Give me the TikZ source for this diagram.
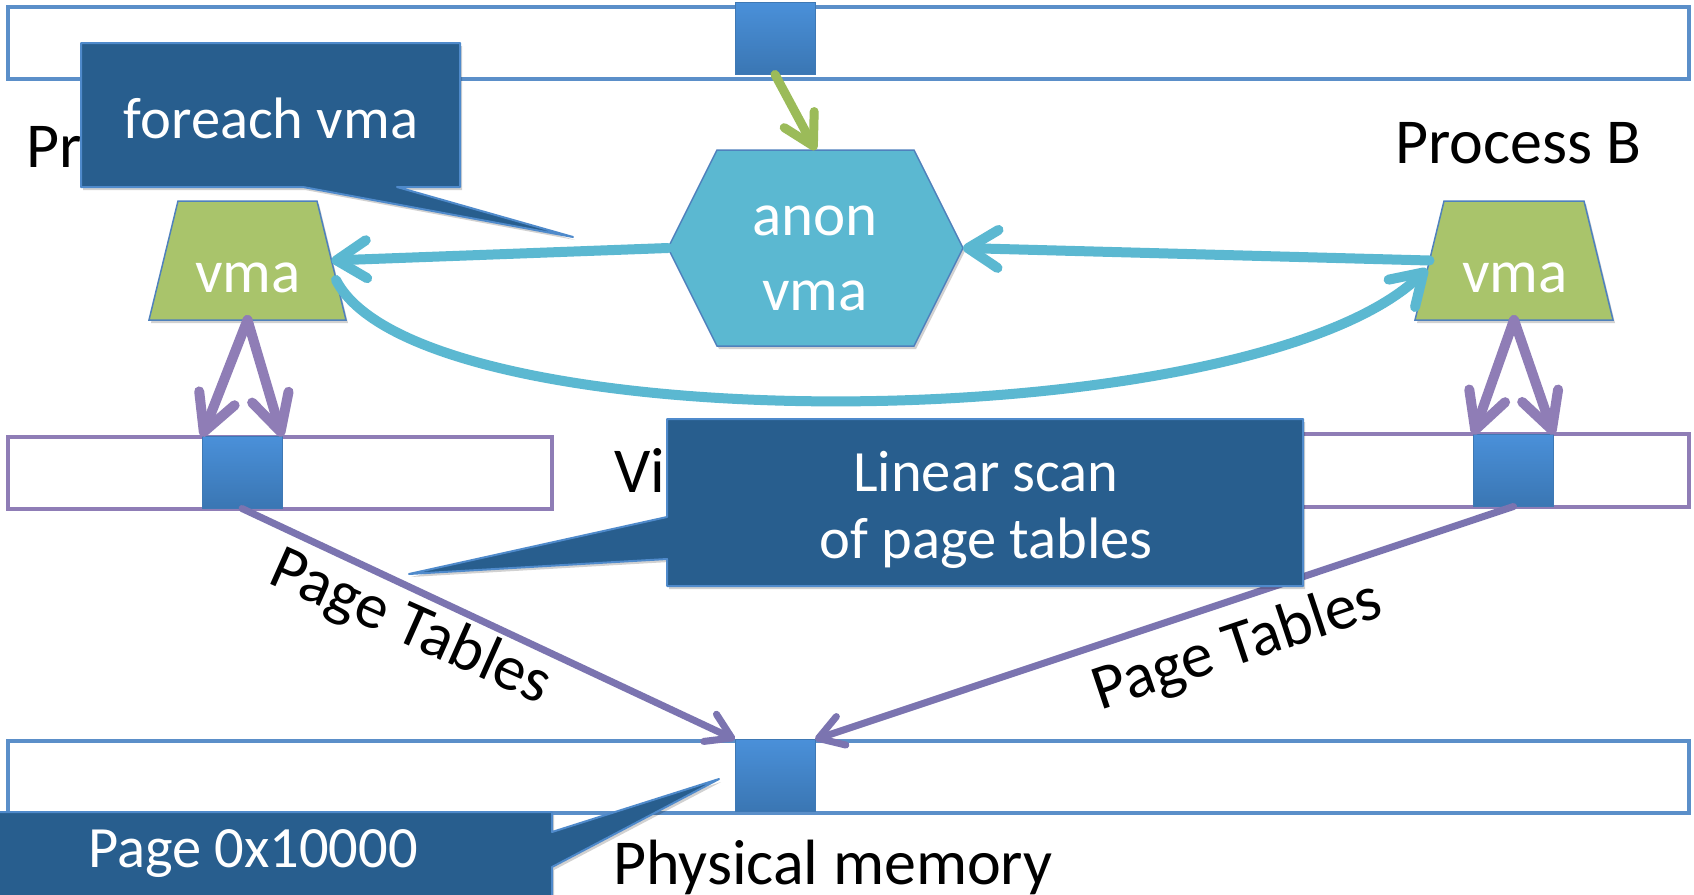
\documentclass[tikz,border=0pt]{standalone}
\usepackage{fontspec}
\setmainfont{Carlito}
\usetikzlibrary{arrows.meta}
\definecolor{barblue}{HTML}{5B8FC9}
\definecolor{sqtop}{HTML}{4A90D9}
\definecolor{sqbot}{HTML}{3A76B3}
\definecolor{sqedge}{HTML}{3E78B4}
\definecolor{boxfill}{HTML}{285E8E}
\definecolor{boxedge}{HTML}{4F8ACB}
\definecolor{vmafill}{HTML}{A9C46B}
\definecolor{shapeedge}{HTML}{4F81BD}
\definecolor{arrgreen}{HTML}{9BBB59}
\definecolor{aqua}{HTML}{5BB8D1}
\definecolor{purp}{HTML}{8F7DB6}
\definecolor{ptline}{HTML}{7B74B0}
\begin{document}
\begin{tikzpicture}[x=1pt,y=-1pt,
  bar/.style={draw=barblue, line width=4.5pt, fill=white},
  vbar/.style={draw=purp, line width=4.5pt, fill=white},
  pg/.style={shape=rectangle, inner sep=0pt, outer sep=0pt, minimum width=80pt, minimum height=72pt,
    top color=sqtop, bottom color=sqbot, draw=sqedge, line width=1pt},
  shadowcopy/.style={fill=black, opacity=0.18, xshift=2pt, yshift=-3pt},
  callout/.style={fill=boxfill, draw=boxedge, line width=2pt, line join=round},
  vmastyle/.style={fill=vmafill, draw=shapeedge, line width=1.5pt},
  hexstyle/.style={fill=aqua, draw=shapeedge, line width=1.5pt},
  blk/.style={inner sep=0pt, text=black, font=\fontsize{64pt}{76pt}\selectfont},
  wht/.style={inner sep=0pt, text=white, font=\fontsize{58.5pt}{70pt}\selectfont},
  whtbig/.style={inner sep=0pt, text=white, font=\fontsize{61pt}{72pt}\selectfont},
  garrow/.style={draw=arrgreen, line width=9pt, line cap=round,
    -{Straight Barb[length=30pt,width=34pt,round]}},
  carrow/.style={draw=aqua, line width=10pt, line cap=round,
    -{Straight Barb[length=30pt,width=38pt,round]}},
  parrow/.style={draw=purp, line width=10pt, line cap=round,
    -{Straight Barb[length=36pt,width=38pt,round]}},
  ptarrow/.style={draw=ptline, line width=7pt, line cap=round,
    -{Straight Barb[length=24pt,width=30pt,round]}}
]
\useasboundingbox (0,0) rectangle (1694,894);
\fill[white] (0,0) rectangle (1694,894);

% named anchor points of the drawn shapes
\coordinate (vmaA-east) at (331.5,260.5);
\coordinate (vmaA-south) at (247.5,320);
\coordinate (vmaA-curve) at (336,280);
\coordinate (vmaB-west) at (1429.5,260.5);
\coordinate (vmaB-south) at (1514,320);
\coordinate (vmaB-curve) at (1427,269);
\coordinate (anon-north) at (815.5,150);
\coordinate (anon-west) at (668,248);
\coordinate (anon-east) at (963,248);

% top bar
\draw[bar] (8,7) rectangle (1689,79);
\node[pg] (topsq) at (775,38.5) {};

% Process labels and foreach callout
\node[blk, anchor=base west] (procA) at (26,167) {Process A};
\fill[shadowcopy] (81,43) -- (460,43) -- (460,187) -- (397,187) -- (573,237) -- (303,187) -- (81,187) -- cycle;
\filldraw[callout] (81,43) -- (460,43) -- (460,187) -- (397,187) -- (573,237) -- (303,187) -- (81,187) -- cycle;
\node[wht, anchor=base] (foreachtxt) at (271,138) {foreach vma};
\node[blk, anchor=base west] (procB) at (1395,163) {Process B};

% vmas and anon vma
\fill[shadowcopy] (149,320) -- (178,201) -- (317,201) -- (346,320) -- cycle;
\filldraw[vmastyle] (149,320) -- (178,201) -- (317,201) -- (346,320) -- cycle;
\fill[shadowcopy] (1415,320) -- (1444,201) -- (1584,201) -- (1613,320) -- cycle;
\filldraw[vmastyle] (1415,320) -- (1444,201) -- (1584,201) -- (1613,320) -- cycle;
\node[whtbig, anchor=base] (vmaAtxt) at (248,292) {vma};
\node[whtbig, anchor=base] (vmaBtxt) at (1515,292) {vma};
\fill[shadowcopy] (717,150) -- (914,150) -- (963,248) -- (914,346) -- (717,346) -- (668,248) -- cycle;
\filldraw[hexstyle] (717,150) -- (914,150) -- (963,248) -- (914,346) -- (717,346) -- (668,248) -- cycle;
\node[whtbig, anchor=base] (anontxt1) at (815,235) {anon};
\node[whtbig, anchor=base] (anontxt2) at (815,310) {vma};

% connectors around anon vma
\draw[garrow] (topsq.south) -- (anon-north);
\draw[carrow] (anon-west) -- (vmaA-east);
\draw[carrow] (vmaB-west) -- (anon-east);
\draw[carrow] (vmaA-curve) .. controls (420,445) and (1250,440) .. (vmaB-curve);

% virtual memory bars
\draw[vbar] (8,437) rectangle (552,509);
\draw[vbar] (1250,434) rectangle (1689,507);
\node[pg] (sqA) at (242,472.5) {};
\node[pg] (sqB) at (1513.5,470.5) {};
\draw[parrow] (vmaA-south) -- (sqA.north west);
\draw[parrow] (vmaA-south) -- (sqA.north east);
\draw[parrow] (vmaB-south) -- (sqB.north west);
\draw[parrow] (vmaB-south) -- (sqB.north east);
\node[blk, anchor=base west] (virt) at (614,492) {Virtual memory};

% physical memory
\draw[bar] (8,741) rectangle (1689,813);
\node[pg] (psq) at (775,775.5) {};
\draw[ptarrow] (sqA.south) -- (psq.north west);
\draw[ptarrow] (sqB.south) -- (psq.north east);
\node[blk, anchor=base west, rotate=-24] (ptA) at (266,582) {Page Tables};
\node[blk, anchor=base west, rotate=18.5] (ptB) at (1100,711) {Page Tables};

% linear scan callout
\fill[shadowcopy] (667,419) -- (1303,419) -- (1303,586) -- (667,586) -- (667,559) -- (409,574) -- (667,517) -- cycle;
\filldraw[callout] (667,419) -- (1303,419) -- (1303,586) -- (667,586) -- (667,559) -- (409,574) -- (667,517) -- cycle;
\node[wht, anchor=base] (ls1) at (986,491) {Linear scan};
\node[wht, anchor=base] (ls2) at (986,558) {of page tables};

% physical memory label and page callout
\node[blk, anchor=base west] (phys) at (613,884) {Physical memory};
\fill[shadowcopy] (-5,812) -- (552,812) -- (552,832) -- (719,779) -- (552,867) -- (552,905) -- (-5,905) -- cycle;
\filldraw[callout] (-5,812) -- (552,812) -- (552,832) -- (719,779) -- (552,867) -- (552,905) -- (-5,905) -- cycle;
\node[wht, anchor=base] (pagetxt) at (253,867) {Page 0x10000};
\end{tikzpicture}
\end{document}
